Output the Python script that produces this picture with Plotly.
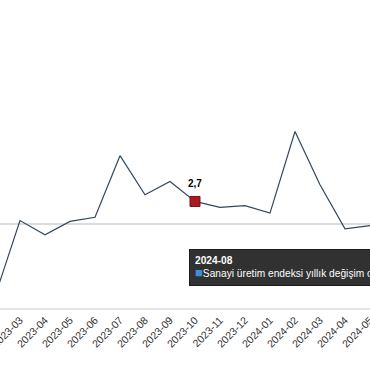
import plotly.graph_objects as go

months = ["2023-02", "2023-03", "2023-04", "2023-05", "2023-06", "2023-07", "2023-08",
          "2023-09", "2023-10", "2023-11", "2023-12", "2024-01", "2024-02", "2024-03",
          "2024-04", "2024-05"]
values = [-8.7, 0.4, -1.3, 0.3, 0.8, 8.2, 3.5, 5.1, 2.7, 2.0, 2.2, 1.3, 11.1, 4.7, -0.6, -0.2]

highlight_month = "2023-10"
highlight_value = 2.7
tooltip_month = "2024-08"
series_name = "Sanayi üretim endeksi yıllık değişim oranı (%)"

FONT = "Liberation Sans, Arial, Helvetica, sans-serif"

fig = go.Figure()
fig.add_trace(go.Scatter(
    x=months, y=values, mode="lines",
    line=dict(color="#33475b", width=1.2),
    hoverinfo="skip", showlegend=False,
))
fig.add_trace(go.Scatter(
    x=[highlight_month], y=[highlight_value], mode="markers",
    marker=dict(symbol="square", size=10, color="#a81c22",
                line=dict(color="#7a1016", width=1)),
    hoverinfo="skip", showlegend=False,
))

fig.add_annotation(
    x=highlight_month, y=highlight_value,
    text="<b>" + f"{highlight_value:.1f}".replace(".", ",") + "</b>",
    showarrow=False, yshift=18,
    font=dict(family=FONT, size=10, color="#000000"),
)

fig.add_annotation(
    xref="paper", yref="paper", x=189 / 370, y=(308 - 249) / 308,
    xanchor="left", yanchor="top", align="left",
    text=("<b>" + tooltip_month + "</b><br>"
          "<span style='color:#3f8fd2;font-size:13px'>■</span>" + series_name),
    showarrow=False,
    bgcolor="rgba(38,38,38,0.95)", bordercolor="#1c1c1c", borderwidth=1, borderpad=5,
    font=dict(family=FONT, size=10.2, color="#ffffff"),
)

fig.update_layout(
    width=370, height=380,
    margin=dict(l=0, r=0, t=0, b=72, autoexpand=False),
    paper_bgcolor="white", plot_bgcolor="white",
    hovermode=False,
    xaxis=dict(
        type="category", range=[0.2, 15.0], automargin=False,
        showgrid=False, showline=True, linecolor="#e6e6e6", linewidth=2,
        ticks="", tickangle=-45,
        tickfont=dict(family=FONT, size=10.5, color="#333333"),
    ),
    yaxis=dict(
        range=[-10.1, 26.9], showgrid=False, showticklabels=False, automargin=False,
        zeroline=True, zerolinecolor="#dcdcdc", zerolinewidth=2,
    ),
)

fig.write_html(
    "out.html",
    config={"displayModeBar": False},
    post_script="document.body.style.margin='0';document.body.style.overflow='hidden';",
)
